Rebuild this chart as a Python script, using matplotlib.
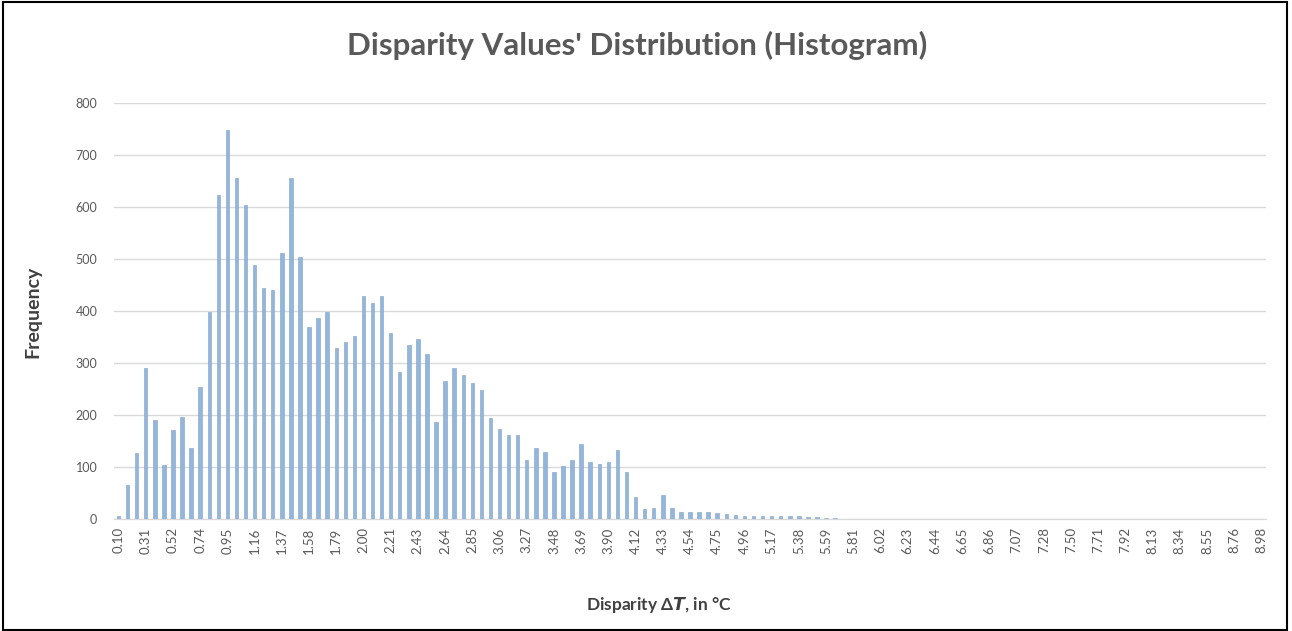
import matplotlib
matplotlib.use("Agg")
import matplotlib.pyplot as plt
from matplotlib.patches import Rectangle

tick_labels = ["0.10", "0.31", "0.52", "0.74", "0.95", "1.16", "1.37", "1.58", "1.79",
               "2.00", "2.21", "2.43", "2.64", "2.85", "3.06", "3.27", "3.48", "3.69",
               "3.90", "4.12", "4.33", "4.54", "4.75", "4.96", "5.17", "5.38", "5.59",
               "5.81", "6.02", "6.23", "6.44", "6.65", "6.86", "7.07", "7.28", "7.50",
               "7.71", "7.92", "8.13", "8.34", "8.55", "8.76", "8.98"]

frequency = [5, 65, 126, 290, 190, 104, 171, 197, 136, 254,
             399, 623, 748, 655, 604, 488, 444, 440, 511, 655,
             504, 370, 386, 399, 328, 341, 352, 428, 416, 428,
             357, 283, 335, 347, 317, 187, 266, 290, 277, 261,
             248, 194, 174, 162, 162, 113, 136, 128, 91, 102,
             113, 144, 110, 106, 110, 133, 91, 42, 19, 22,
             46, 22, 14, 14, 14, 14, 12, 9, 7, 6,
             5, 5, 5, 5, 5, 6, 4, 3, 2, 2,
             0, 0, 0, 0, 0, 0, 0, 0, 0, 0,
             0, 0, 0, 0, 0, 0, 0, 0, 0, 0,
             0, 0, 0, 0, 0, 0, 0, 0, 0, 0,
             0, 0, 0, 0, 0, 0, 0, 0, 0, 0,
             0, 0, 0, 0, 0, 0, 0]

label_step = 3

plt.rcParams['font.family'] = ['Lato', 'DejaVu Sans']
plt.rcParams['mathtext.fontset'] = 'custom'
plt.rcParams['mathtext.it'] = 'DejaVu Sans:italic:bold'
plt.rcParams['mathtext.rm'] = 'Lato:bold'

W, H = 1292, 631
fig = plt.figure(figsize=(W / 100, H / 100), dpi=100)
fig.patch.set_facecolor('white')

left, right, top, bottom = 114, 1266, 103, 519
ax = fig.add_axes([left / W, 1 - bottom / H, (right - left) / W, (bottom - top) / H])

x = list(range(len(frequency)))
ax.bar(x, frequency, width=0.38, color='#93B6DC', edgecolor='#7F9FC4', linewidth=0.4, zorder=3)

ax.set_xlim(-0.5, len(frequency) - 0.5)
ax.set_ylim(0, 800)
ax.set_yticks(range(0, 801, 100))
ax.yaxis.grid(True, color='#D9D9D9', linewidth=1.0, zorder=0)
ax.set_axisbelow(True)

ax.set_xticks(x[::label_step])
ax.set_xticklabels(tick_labels, rotation=90, fontsize=9.5, color='#595959')
ax.tick_params(axis='x', length=0, pad=6)
ax.tick_params(axis='y', length=0, pad=12, labelsize=9, labelcolor='#595959')

for s in ['top', 'right', 'left']:
    ax.spines[s].set_visible(False)
ax.spines['bottom'].set_color('#D9D9D9')

fig.text(637 / W, 1 - 45 / H, "Disparity Values' Distribution (Histogram)",
         ha='center', va='center', fontsize=22.5, fontweight='bold', color='#595959')
fig.text(33 / W, 1 - 312 / H, "Frequency", rotation=90, ha='center', va='center',
         fontsize=14, fontweight='bold', color='#404040')
fig.text(659 / W, 1 - 605 / H, r"Disparity $\mathit{\Delta T}$, in °C",
         ha='center', va='center', fontsize=12.5, fontweight='bold', color='#404040')

fig.patches.append(Rectangle((3 / W, 1 / H), (1287 - 3) / W, (629 - 1) / H,
                             transform=fig.transFigure, fill=False,
                             edgecolor='black', linewidth=1.5))

fig.savefig('out.png', dpi=100)
